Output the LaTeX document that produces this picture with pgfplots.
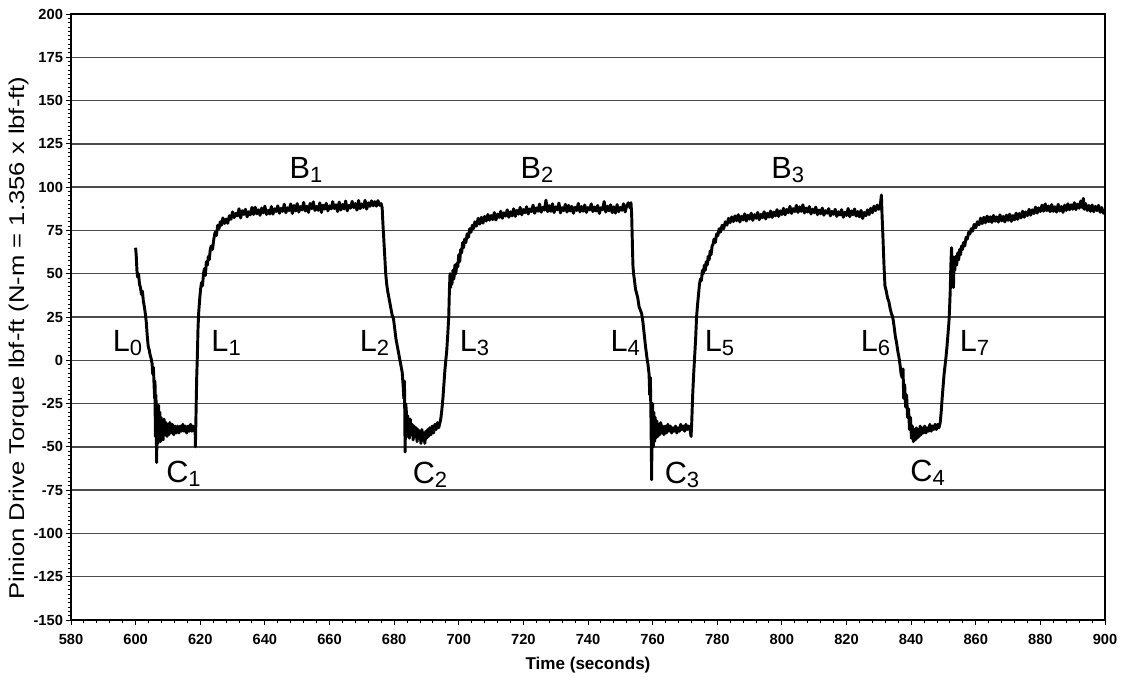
\documentclass[border=0pt]{standalone}
\usepackage{pgfplots}
\pgfplotsset{compat=1.18}
\usepackage{fontspec}
\setmainfont{Liberation Sans}
\newcommand\sub[1]{\raisebox{-3pt}{\fontsize{16.5}{16.5}\selectfont #1}}
\begin{document}
\begin{tikzpicture}
\useasboundingbox (0,0) rectangle (843.75pt,510pt);
\begin{axis}[
  at={(53.25pt,45pt)}, anchor=south west,
  scale only axis, width=775.5pt, height=454.5pt,
  xmin=580, xmax=900, ymin=-150, ymax=200,
  xtick={580,600,...,900}, ytick={-150,-125,...,200},
  minor x tick num=4, minor y tick num=9,
  tick align=outside, xtick pos=bottom, ytick pos=left,
  major tick length=4pt, minor tick length=2.5pt,
  every tick/.style={black, line width=0.7pt},
  axis line style={line width=1pt},
  ymajorgrids, grid style={black!70, line width=1pt},
  /pgf/number format/assume math mode=true,
  /pgf/number format/1000 sep={},
  tick label style={font=\fontsize{11}{13}\selectfont\bfseries},
  xticklabel style={yshift=-3pt},
  yticklabel style={xshift=1.5pt},
]
\addplot[black, line width=2.2pt, line join=round] table {
600.0 65
600.2 60
600.4 52
600.6 48
600.9 50
601.2 44
601.5 42
601.8 38
602.1 40
602.4 34
602.7 31
603.0 27
603.3 22
603.6 14
603.9 8
604.2 6
604.5 3
604.8 1
605.1 -2
605.3 -8
605.5 -4
605.7 -14
605.9 -22
606.0 -12
606.1 -44
606.3 -20
606.5 -59
606.7 -28
606.9 -48
607.1 -26
607.3 -46
607.5 -30
607.7 -47
607.9 -33
608.1 -44
608.3 -35
608.5 -46
608.8 -34
609.1 -43
609.4 -36
609.7 -44
610.0 -37
610.3 -43
610.6 -36
611.0 -42
611.4 -37
611.8 -43
612.2 -38
612.6 -42
613.0 -38
613.4 -42
613.8 -38
614.2 -41
614.6 -37
615.0 -41
615.4 -38
615.8 -42
616.2 -38
616.6 -41
617.0 -37
617.4 -41
617.8 -38
618.2 -41
618.4 -38
618.5 -50
618.7 -30
618.9 -10
619.1 2
619.3 18
619.5 27
619.7 32
619.9 37
620.1 41
620.4 45
620.7 43
621.0 50
621.3 53
621.6 49
621.9 57
622.2 55
622.5 60
622.8 58
623.1 64
623.4 66
623.8 64
624.2 70
624.6 74
625.0 72
625.4 78
625.8 76
626.2 80
626.6 78
627.0 82.2
627.5 79.0
628.0 81.6
628.5 79.1
629.0 83.5
629.5 81.4
630.0 85.7
630.5 82.4
631.0 84.8
631.5 83.4
632.0 87.5
632.5 82.2
633.0 86.4
633.5 84.2
634.0 87.2
634.5 82.8
635.0 85.8
635.5 84.0
636.0 88.3
636.5 84.2
637.0 88.4
637.5 84.6
638.0 86.9
638.5 83.7
639.0 87.9
639.5 85.1
640.0 89.0
640.5 84.2
641.0 86.6
641.5 84.5
642.0 88.8
642.5 84.4
643.0 87.5
643.5 85.9
644.0 89.2
644.5 84.9
645.0 87.8
645.5 86.0
646.0 90.1
646.5 85.2
647.0 88.1
647.5 86.4
648.0 90.3
648.5 84.8
649.0 89.4
649.5 86.2
650.0 90.5
650.5 85.6
651.0 88.8
651.5 86.8
652.0 91.2
652.5 86.2
653.0 89.0
653.5 85.4
654.0 90.6
654.5 87.5
655.0 91.5
655.5 86.5
656.0 88.9
656.5 86.6
657.0 90.9
657.5 85.4
658.0 89.6
658.5 87.3
659.0 90.7
659.5 86.3
660.0 89.2
660.5 87.4
661.0 91.6
661.5 87.6
662.0 89.8
662.5 85.9
663.0 91.4
663.5 86.8
664.0 90.0
664.5 87.4
665.0 92.0
665.5 86.3
666.0 89.5
666.5 87.9
667.0 91.8
667.5 88.1
668.0 90.5
668.5 86.7
669.0 92.3
669.5 87.6
670.0 90.3
670.5 88.2
671.0 92.4
671.5 87.3
672.0 91.0
672.5 88.9
673.0 92.1
673.5 89.2
674.0 91.6
674.5 89.0
675.0 92.2
675.5 89.5
676.0 90.5
676.3 88
676.5 80
676.8 70
677.1 60
677.4 50
677.7 44
678.0 40
678.3 37
678.6 34
679.0 30
679.4 26
679.8 24
680.2 18
680.6 12
681.0 8
681.4 4
681.8 0
682.2 -4
682.5 -7
682.8 -15
683.0 -22
683.2 -12
683.4 -53
683.6 -25
683.8 -30
684.0 -44
684.2 -32
684.4 -38
684.7 -45
685.0 -34
685.3 -43
685.6 -37
685.9 -46
686.2 -38
686.5 -44
686.8 -39
687.1 -47
687.4 -40
687.7 -45
688.0 -41
688.3 -48
688.6 -40
688.9 -46
689.2 -42
689.5 -48
689.8 -41
690.1 -45
690.4 -40
690.7 -44
691.0 -39
691.4 -43
691.8 -38
692.2 -42
692.6 -37
693.0 -40
693.4 -36
693.8 -39
694.2 -36
694.5 -33
694.8 -28
695.1 -22
695.4 -14
695.7 -6
696.0 0
696.3 6
696.6 15
696.9 25
697.1 40
697.3 50
697.5 42
697.7 48
697.9 44
698.2 52
698.5 47
698.8 55
699.1 50
699.4 56
699.7 54
700.0 61
700.3 57
700.6 64
700.9 62
701.2 68
701.5 65
701.8 70
702.2 68
702.6 73
703.0 71
703.4 76
703.8 74
704.2 78
704.6 76
705.0 80
705.5 77.5
706.0 82
706.5 78.6
707.0 82.6
707.5 79.2
708.0 83.1
708.5 80.4
709.0 84.2
709.5 80.9
710.0 83.6
710.5 81.2
711.0 85.3
711.5 81.0
712.0 84.4
712.5 82.5
713.0 86.1
713.5 82.0
714.0 85.2
714.5 83.3
715.0 86.9
715.5 82.6
716.0 85.8
716.5 83.4
717.0 87.5
717.5 83.1
718.0 86.6
718.5 84.4
719.0 88.3
719.5 84.0
720.0 87.1
720.5 85.2
721.0 88.7
721.5 84.5
722.0 87.4
722.5 85.8
723.0 89.6
723.5 84.9
724.0 88.0
724.5 86.1
725.0 90.2
725.5 85.5
726.0 88.4
726.5 86.7
727.0 92.5
727.5 85.8
728.0 89.3
728.5 86.0
729.0 90.4
729.5 85.3
730.0 88.6
730.5 86.9
731.0 90.8
731.5 85.1
732.0 88.2
732.5 86.4
733.0 90.1
733.5 85.6
734.0 89.5
734.5 86.2
735.0 88.9
735.5 84.9
736.0 88.4
736.5 86.5
737.0 90.6
737.5 85.7
738.0 88.8
738.5 86.1
739.0 89.7
739.5 85.4
740.0 88.2
740.5 86.8
741.0 90.3
741.5 85.9
742.0 88.5
742.5 86.2
743.0 89.4
743.5 84.8
744.0 88.1
744.5 86.9
745.0 91.7
745.5 85.6
746.0 89.0
746.5 86.3
747.0 89.8
747.5 85.2
748.0 88.6
748.5 85.0
749.0 89.9
749.5 85.8
750.0 88.3
750.5 86.6
751.0 90.4
751.5 85.7
752.0 89.3
752.5 91.0
753.0 88.0
753.3 91
753.5 85
753.7 70
753.9 55
754.1 50
754.4 46
754.7 41
755.0 39
755.4 36
755.8 31
756.2 29
756.6 27
757.0 22
757.4 15
757.8 8
758.2 2
758.6 -3
758.9 -8
759.1 -20
759.3 -10
759.5 -35
759.7 -69
759.8 -40
760.0 -25
760.2 -50
760.4 -30
760.6 -47
760.8 -33
761.0 -45
761.3 -35
761.6 -44
761.9 -37
762.2 -43
762.5 -36
762.8 -42
763.1 -38
763.5 -43
763.9 -38
764.3 -42
764.7 -37
765.1 -41
765.5 -38
765.9 -42
766.3 -39
766.7 -41
767.1 -38
767.5 -42
767.9 -39
768.3 -41
768.7 -37
769.1 -40
769.5 -38
769.9 -41
770.3 -37
770.7 -40
771.1 -38
771.5 -39
771.9 -44
772.1 -36
772.4 -20
772.7 -8
773.0 2
773.3 12
773.6 25
773.9 32
774.2 38
774.5 44
774.8 47
775.1 46
775.4 52
775.7 50
776.0 55
776.3 52
776.6 57
776.9 55
777.2 60
777.5 58
777.8 63
778.1 61
778.4 66
778.7 67
779.0 70
779.4 68
779.8 73
780.2 72
780.6 76
781.0 74
781.5 78
782.0 76
782.5 80
783.0 78
783.5 82
784.0 79.5
784.5 82.8
785.0 80.1
785.5 83.4
786.0 80.6
786.5 84.1
787.0 79.9
787.5 83.2
788.0 81.0
788.5 84.6
789.0 80.4
789.5 83.8
790.0 81.5
790.5 85.0
791.0 80.8
791.5 84.1
792.0 82.0
792.5 85.4
793.0 81.2
793.5 84.3
794.0 82.3
794.5 85.8
795.0 81.6
795.5 84.9
796.0 82.7
796.5 86.2
797.0 82.5
797.5 85.6
798.0 83.4
798.5 87.0
799.0 83.1
799.5 86.3
800.0 84.2
800.5 87.8
801.0 84.0
801.5 87.1
802.0 85.2
802.5 88.9
803.0 84.8
803.5 87.6
804.0 85.9
804.5 89.5
805.0 85.4
805.5 88.6
806.0 86.0
806.5 89.8
807.0 85.1
807.5 87.9
808.0 85.6
808.5 88.8
809.0 84.5
809.5 87.3
810.0 85.2
810.5 88.5
811.0 84.1
811.5 86.8
812.0 84.6
812.5 87.9
813.0 83.8
813.5 86.4
814.0 84.9
814.5 87.6
815.0 83.4
815.5 86.0
816.0 84.3
816.5 87.2
817.0 83.1
817.5 85.8
818.0 83.9
818.5 87.0
819.0 82.6
819.5 85.5
820.0 83.6
820.5 87.7
821.0 82.9
821.5 86.3
822.0 84.0
822.5 87.4
823.0 83.3
823.5 85.9
824.0 82.8
824.5 86.6
825.0 81.9
825.5 85.4
826.0 83.5
826.5 86.9
827.0 84.1
827.5 87.8
828.0 85.2
828.5 89.0
829.0 86.4
829.5 89.6
830.0 87.2
830.5 90.1
830.8 95.5
831.0 84
831.3 70
831.6 55
831.9 43
832.3 40
832.7 36
833.1 34
833.5 30
833.9 27
834.3 25
834.7 20
835.1 14
835.5 10
835.9 5
836.3 1
836.6 -3
836.9 -8
837.2 -10
837.5 -5
837.7 -22
838.0 -14
838.3 -27
838.6 -20
838.9 -33
839.2 -28
839.5 -40
839.8 -33
840.1 -45
840.4 -38
840.7 -47
841.0 -40
841.3 -46
841.6 -39
841.9 -45
842.2 -40
842.5 -44
842.8 -38
843.1 -43
843.4 -39
843.8 -42
844.2 -38
844.6 -42
845.0 -39
845.4 -41
845.8 -37
846.2 -41
846.6 -38
847.0 -40
847.4 -37
847.8 -40
848.2 -37
848.6 -39
849.0 -36
849.3 -30
849.6 -22
849.9 -15
850.2 -8
850.5 -3
850.8 2
851.1 8
851.4 15
851.7 22
851.9 30
852.1 40
852.3 55
852.5 65
852.7 48
852.9 60
853.1 42
853.3 58
853.5 52
853.8 60
854.1 55
854.4 62
854.7 58
855.0 64
855.3 61
855.6 66
855.9 64
856.2 68
856.6 66
857.0 71
857.4 70
857.8 74
858.2 73
858.6 76
859.0 74.5
859.5 78.5
860.0 76.5
860.5 80
861.0 78.2
861.5 82.1
862.0 78.9
862.5 82.6
863.0 79.4
863.5 83.3
864.0 80.0
864.5 82.9
865.0 79.6
865.5 83.7
866.0 80.3
866.5 82.8
867.0 79.8
867.5 84.0
868.0 80.5
868.5 83.1
869.0 79.9
869.5 83.9
870.0 80.8
870.5 84.4
871.0 80.2
871.5 83.6
872.0 81.1
872.5 85.0
873.0 81.4
873.5 84.8
874.0 82.2
874.5 86.1
875.0 82.6
875.5 85.7
876.0 83.5
876.5 87.2
877.0 83.8
877.5 86.9
878.0 84.7
878.5 88.5
879.0 85.0
879.5 88.0
880.0 85.9
880.5 89.6
881.0 86.1
881.5 90.3
882.0 86.4
882.5 89.1
883.0 85.8
883.5 89.9
884.0 86.0
884.5 88.7
885.0 85.6
885.5 90.1
886.0 86.2
886.5 88.8
887.0 85.4
887.5 89.6
888.0 86.5
888.5 90.4
889.0 86.9
889.5 89.8
890.0 87.2
890.5 91.0
891.0 87.0
891.5 90.2
892.0 87.8
892.5 92.0
893.0 88.1
893.3 93.5
893.6 87.2
894.0 90.6
894.5 86.5
895.0 89.4
895.5 86.0
896.0 89.7
896.5 85.8
897.0 88.9
897.5 86.4
898.0 89.5
898.5 85.5
899.0 88.2
899.5 84.9
900.0 86.5
};
\begin{scope}[every node/.style={font=\fontsize{23}{23}\selectfont, anchor=center, inner sep=0pt}]
\node at (axis cs:652.7,110) {B\sub{1}};
\node at (axis cs:724.2,110) {B\sub{2}};
\node at (axis cs:801.8,110) {B\sub{3}};
\node at (axis cs:597.5,9.8) {L\sub{0}};
\node at (axis cs:628.0,9.8) {L\sub{1}};
\node at (axis cs:673.9,9.8) {L\sub{2}};
\node at (axis cs:704.9,9.8) {L\sub{3}};
\node at (axis cs:751.5,9.8) {L\sub{4}};
\node at (axis cs:780.7,9.8) {L\sub{5}};
\node at (axis cs:829.0,9.8) {L\sub{6}};
\node at (axis cs:859.6,9.8) {L\sub{7}};
\node at (axis cs:614.8,-65.6) {C\sub{1}};
\node at (axis cs:691.1,-66) {C\sub{2}};
\node at (axis cs:769.1,-66) {C\sub{3}};
\node at (axis cs:845.1,-65) {C\sub{4}};
\end{scope}
\end{axis}
\node[rotate=90, font=\fontsize{16}{19}\selectfont, inner sep=0pt] at (14pt,256.5pt) {\scalebox{1.2}[1]{Pinion Drive Torque lbf-ft (N-m = 1.356 x lbf-ft)}};
\node[font=\fontsize{12.8}{15}\selectfont\bfseries, inner sep=0pt] at (441pt,11.25pt) {Time (seconds)};
\end{tikzpicture}
\end{document}
